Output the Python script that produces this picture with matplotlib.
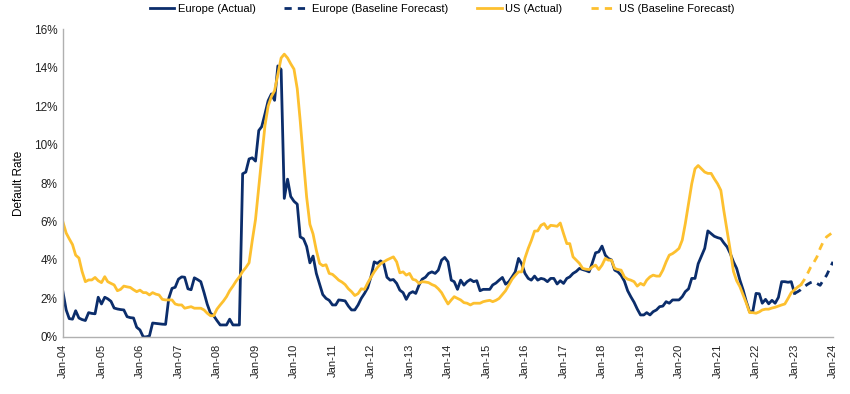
import matplotlib
matplotlib.use("Agg")
import matplotlib.pyplot as plt
import matplotlib.dates as mdates
import matplotlib.ticker as mtick
import pandas as pd

plt.rcParams['font.family'] = ['Liberation Sans', 'DejaVu Sans']

# monthly default rates (%), Europe actual Jan-04 .. Jan-23
europe_actual = [
    2.35, 1.40, 0.95, 0.92, 1.36, 0.98, 0.90, 0.85, 1.26, 1.22, 1.20, 2.06,   # 2004
    1.71, 2.06, 1.98, 1.85, 1.50, 1.45, 1.42, 1.40, 1.05, 1.00, 0.98, 0.50,   # 2005
    0.36, 0.00, 0.00, 0.05, 0.72, 0.70, 0.68, 0.66, 0.65, 2.00, 2.52, 2.58,   # 2006
    3.00, 3.12, 3.10, 2.50, 2.45, 3.07, 2.98, 2.87, 2.30, 1.70, 1.23, 1.10,   # 2007
    0.85, 0.62, 0.62, 0.62, 0.92, 0.62, 0.62, 0.62, 8.48, 8.57, 9.25, 9.31,   # 2008
    9.14, 10.73, 10.93, 11.60, 12.28, 12.63, 12.30, 14.09, 13.90, 7.20, 8.20, 7.30,  # 2009
    7.05, 6.90, 5.20, 5.10, 4.70, 3.85, 4.20, 3.30, 2.75, 2.20, 2.00, 1.90,   # 2010
    1.66, 1.66, 1.92, 1.90, 1.87, 1.60, 1.40, 1.40, 1.66, 2.00, 2.26, 2.55,   # 2011
    3.12, 3.90, 3.82, 3.95, 3.82, 3.10, 2.95, 2.98, 2.78, 2.43, 2.30, 1.95,   # 2012
    2.26, 2.35, 2.26, 2.69, 3.00, 3.10, 3.30, 3.38, 3.30, 3.47, 3.99, 4.13,   # 2013
    3.90, 2.95, 2.87, 2.47, 2.95, 2.69, 2.87, 2.98, 2.87, 2.92, 2.40, 2.47,   # 2014
    2.47, 2.47, 2.70, 2.80, 2.95, 3.09, 2.74, 2.87, 3.12, 3.38, 4.08, 3.80,   # 2015
    3.30, 3.04, 2.95, 3.16, 2.95, 3.04, 3.00, 2.87, 3.04, 3.04, 2.75, 2.92,   # 2016
    2.78, 3.04, 3.12, 3.30, 3.40, 3.56, 3.50, 3.45, 3.38, 3.85, 4.37, 4.42,   # 2017
    4.72, 4.25, 4.08, 4.00, 3.47, 3.38, 3.20, 2.90, 2.40, 2.09, 1.80, 1.45,   # 2018
    1.14, 1.14, 1.26, 1.14, 1.31, 1.40, 1.57, 1.60, 1.83, 1.75, 1.92, 1.92,   # 2019
    1.92, 2.09, 2.35, 2.50, 3.04, 3.04, 3.80, 4.20, 4.60, 5.51, 5.37, 5.23,   # 2020
    5.16, 5.11, 4.89, 4.68, 4.34, 3.90, 3.56, 2.95, 2.43, 1.83, 1.31, 1.31,   # 2021
    2.26, 2.24, 1.75, 1.95, 1.72, 1.90, 1.75, 2.05, 2.87, 2.87, 2.84, 2.87,   # 2022
    2.26,                                                                     # 2023
]
# Europe baseline forecast Jan-23 .. Jan-24
europe_forecast = [2.26, 2.35, 2.45, 2.60, 2.72, 2.82, 2.88, 2.78, 2.68, 2.95, 3.20, 3.55, 3.90]

# US actual Jan-04 .. Mar-23
us_actual = [
    5.98, 5.40, 5.10, 4.80, 4.25, 4.10, 3.40, 2.87, 2.96, 2.96, 3.09, 2.92,   # 2004
    2.82, 3.13, 2.87, 2.78, 2.70, 2.40, 2.47, 2.64, 2.60, 2.57, 2.45, 2.35,   # 2005
    2.43, 2.30, 2.30, 2.18, 2.30, 2.22, 2.18, 1.95, 1.92, 1.92, 1.92, 1.71,   # 2006
    1.66, 1.66, 1.49, 1.53, 1.57, 1.49, 1.49, 1.49, 1.40, 1.23, 1.10, 1.10,   # 2007
    1.44, 1.66, 1.85, 2.09, 2.40, 2.64, 2.90, 3.12, 3.40, 3.60, 3.85, 5.00,   # 2008
    6.10, 7.80, 9.30, 11.00, 12.00, 12.50, 12.80, 13.66, 14.50, 14.70, 14.50, 14.20,  # 2009
    13.92, 12.90, 11.24, 9.17, 7.27, 5.85, 5.35, 4.50, 3.82, 3.70, 3.75, 3.30,  # 2010
    3.25, 3.10, 2.95, 2.85, 2.72, 2.50, 2.35, 2.15, 2.25, 2.50, 2.47, 2.80,   # 2011
    3.10, 3.38, 3.60, 3.80, 3.90, 4.00, 4.08, 4.16, 3.90, 3.33, 3.38, 3.21,   # 2012
    3.30, 2.99, 2.95, 2.78, 2.87, 2.85, 2.82, 2.72, 2.65, 2.50, 2.30, 2.00,   # 2013
    1.71, 1.92, 2.09, 2.00, 1.92, 1.78, 1.75, 1.66, 1.75, 1.75, 1.75, 1.83,   # 2014
    1.87, 1.90, 1.83, 1.90, 2.00, 2.20, 2.40, 2.70, 3.00, 3.20, 3.38, 3.38,   # 2015
    4.10, 4.60, 5.00, 5.50, 5.51, 5.80, 5.89, 5.63, 5.80, 5.78, 5.75, 5.92,   # 2016
    5.37, 4.85, 4.85, 4.16, 3.99, 3.82, 3.56, 3.52, 3.50, 3.64, 3.73, 3.50,   # 2017
    3.73, 4.08, 3.99, 3.99, 3.56, 3.50, 3.47, 3.12, 3.00, 2.95, 2.87, 2.64,   # 2018
    2.78, 2.69, 2.95, 3.12, 3.21, 3.16, 3.16, 3.47, 3.90, 4.25, 4.33, 4.45,   # 2019
    4.60, 5.03, 5.89, 6.93, 7.96, 8.74, 8.91, 8.74, 8.57, 8.50, 8.50, 8.22,   # 2020
    7.96, 7.62, 6.58, 5.54, 4.51, 3.40, 2.92, 2.61, 2.18, 1.75, 1.26, 1.26,   # 2021
    1.23, 1.30, 1.40, 1.44, 1.44, 1.50, 1.54, 1.60, 1.66, 1.71, 2.00, 2.30,   # 2022
    2.45, 2.60, 2.70,                                                         # 2023
]
# US baseline forecast Mar-23 .. Jan-24
us_forecast = [2.70, 2.95, 3.25, 3.60, 3.85, 4.15, 4.60, 4.95, 5.20, 5.32, 5.45]

navy = '#0b2d6b'
gold = '#fdc02f'

eu_dates = pd.date_range('2004-01-01', periods=len(europe_actual), freq='MS')
eu_fc_dates = pd.date_range(eu_dates[-1], periods=len(europe_forecast), freq='MS')
us_dates = pd.date_range('2004-01-01', periods=len(us_actual), freq='MS')
us_fc_dates = pd.date_range(us_dates[-1], periods=len(us_forecast), freq='MS')

fig = plt.figure(figsize=(8.5, 3.94), dpi=100)
ax = fig.add_axes([0.074, 0.145, 0.906, 0.781])

ax.plot(eu_dates, europe_actual, color=navy, lw=2.0, label='Europe (Actual)')
ax.plot(eu_fc_dates, europe_forecast, color=navy, lw=2.0, dashes=(2.6, 2.2),
        label='Europe (Baseline Forecast)')
ax.plot(us_dates, us_actual, color=gold, lw=2.0, label='US (Actual)')
ax.plot(us_fc_dates, us_forecast, color=gold, lw=2.0, dashes=(2.6, 2.2),
        label='US (Baseline Forecast)')

ax.set_xlim(pd.Timestamp('2004-01-01'), pd.Timestamp('2024-01-01'))
ax.set_ylim(0, 16)
ax.yaxis.set_major_locator(mtick.MultipleLocator(2))
ax.yaxis.set_major_formatter(mtick.FuncFormatter(lambda v, p: '%d%%' % v))
ax.xaxis.set_major_locator(mdates.YearLocator())
ax.xaxis.set_major_formatter(mdates.DateFormatter('%b-%y'))
ax.tick_params(axis='x', labelrotation=90, length=0, labelsize=8, pad=5, colors='#222222')
ax.tick_params(axis='y', length=0, labelsize=8.5, pad=4, colors='#222222')
ax.set_ylabel('Default Rate', fontsize=8.5, labelpad=6)

for s in ['top', 'right']:
    ax.spines[s].set_visible(False)
for s in ['left', 'bottom']:
    ax.spines[s].set_color('#b0b0b0')
    ax.spines[s].set_linewidth(1.0)

fig.legend(loc='upper center', bbox_to_anchor=(0.52, 1.015), ncol=4, frameon=False,
           fontsize=8, handlelength=2.2, columnspacing=2.6, handletextpad=0.3)

fig.savefig('out.png', dpi=100)
